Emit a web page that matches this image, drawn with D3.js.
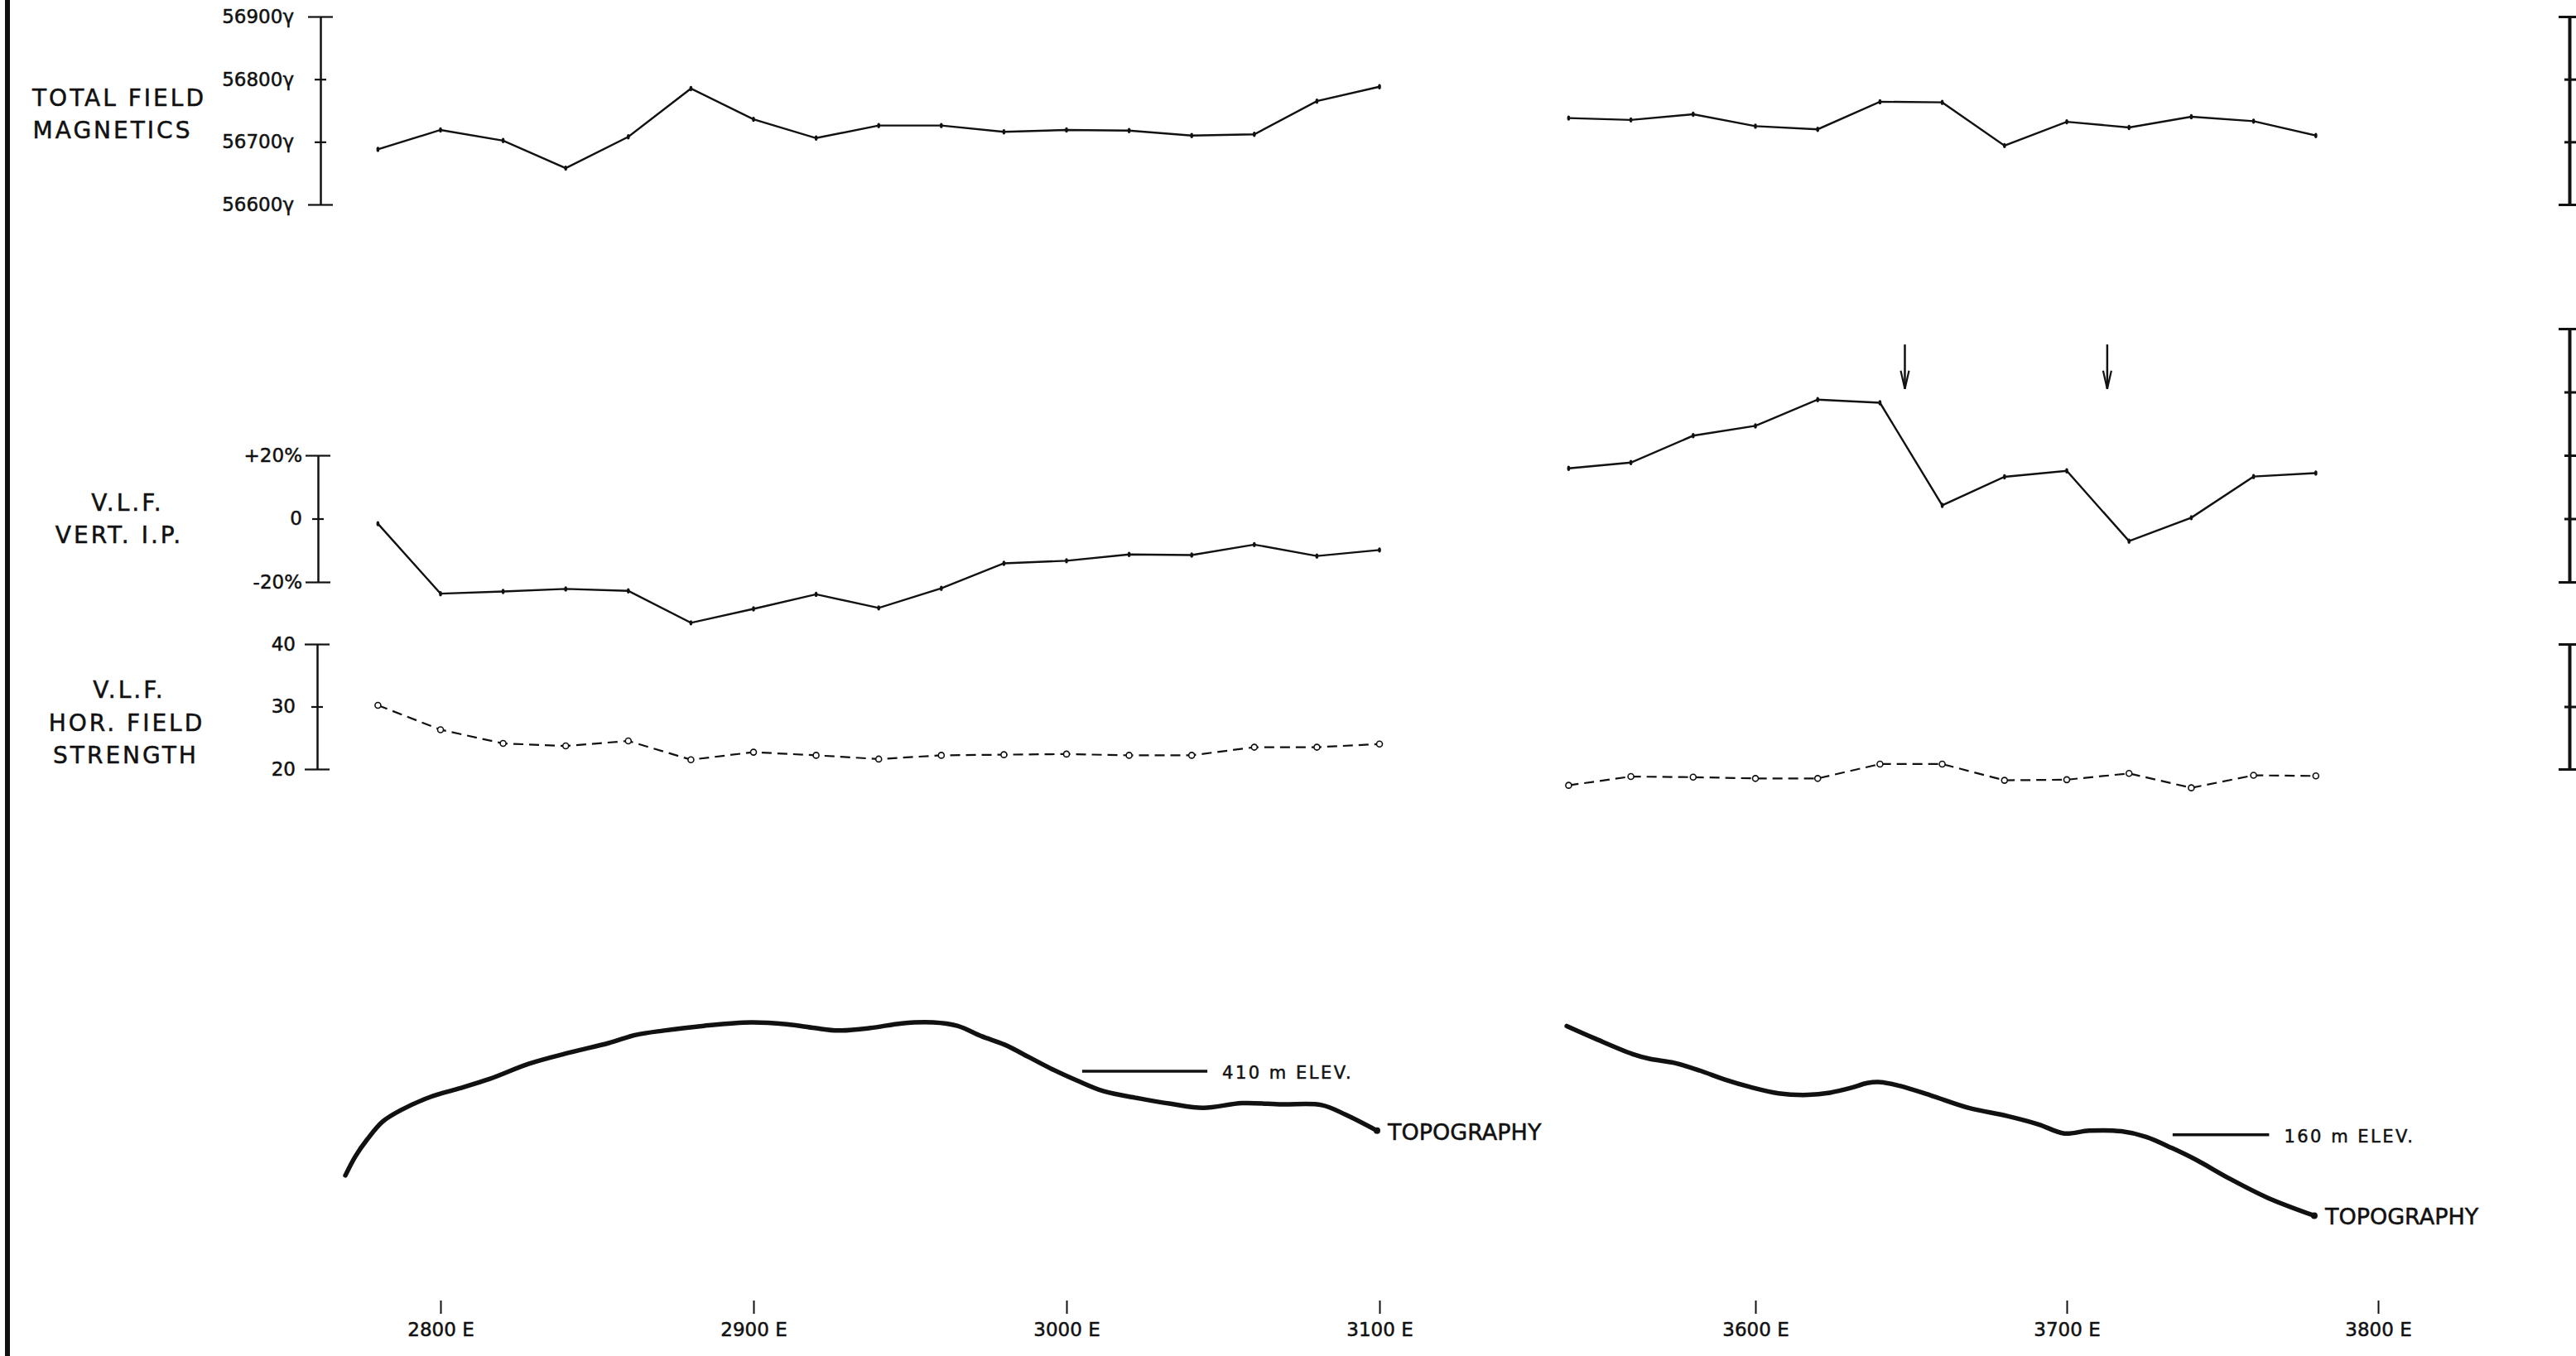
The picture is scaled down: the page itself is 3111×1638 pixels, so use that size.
<!DOCTYPE html>
<html>
<head>
<meta charset="utf-8">
<script src="https://cdn.jsdelivr.net/npm/d3@7"></script>
<style>
body { margin: 0; background: #fff; }
svg { display: block; }
text { font-family: "DejaVu Sans", sans-serif; fill: #111; stroke: #111; stroke-width: 0.5px; }
</style>
</head>
<body>
<svg id="chart" width="3111" height="1638"></svg>
<script>
// stations (m E) on the two parts of the line
var westStations = [2780, 2800, 2820, 2840, 2860, 2880, 2900, 2920, 2940, 2960, 2980, 3000, 3020, 3040, 3060, 3080, 3100];
var eastStations = [3540, 3560, 3580, 3600, 3620, 3640, 3660, 3680, 3700, 3720, 3740, 3760, 3780];

// total field magnetics, gammas
var magWest = [56688, 56719, 56702, 56658, 56708, 56785, 56736, 56706, 56726, 56726, 56716, 56719, 56718, 56710, 56712, 56765, 56788];
var magEast = [56738, 56735, 56744, 56725, 56720, 56764, 56763, 56694, 56732, 56723, 56740, 56733, 56710];

// VLF vertical in-phase, %
var ipWest = [-1.6, -23.7, -23.0, -22.2, -22.8, -32.9, -28.5, -23.9, -28.2, -22.0, -14.1, -13.3, -11.3, -11.5, -8.2, -11.8, -9.9];
var ipEast = [15.9, 17.7, 26.2, 29.3, 37.6, 36.6, 4.2, 13.2, 15.1, -7.1, 0.3, 13.3, 14.4];

// VLF horizontal field strength
var hfsWest = [30.2, 26.3, 24.1, 23.7, 24.5, 21.5, 22.7, 22.2, 21.6, 22.2, 22.3, 22.4, 22.2, 22.2, 23.5, 23.5, 24.0];
var hfsEast = [17.4, 18.8, 18.7, 18.5, 18.5, 20.8, 20.8, 18.2, 18.3, 19.3, 17.0, 19.0, 18.9];

// topography, station (m E) and elevation (m)
var topoWestSt = [2769.6, 2772.8, 2776.5, 2781.5, 2787.8, 2796.8, 2805.6, 2815.6, 2828.3, 2841.0, 2853.7, 2862.4, 2871.4, 2884.1, 2899.2, 2910.6, 2919.6, 2927.0, 2937.3, 2947.4, 2957.4, 2965.1, 2972.8, 2980.2, 2987.8, 2995.5, 3003.2, 3011.9, 3023.3, 3033.3, 3043.7, 3056.1, 3068.8, 3081.5, 3089.2, 3099.2];
var topoWestElev = [376.7, 382.8, 388.1, 393.9, 397.8, 401.8, 404.4, 407.5, 412.4, 415.9, 419.0, 421.6, 423.0, 424.5, 425.6, 425.0, 423.8, 423.0, 423.8, 425.3, 425.6, 424.5, 421.2, 418.5, 414.6, 410.6, 407.1, 403.6, 401.3, 399.6, 398.3, 399.8, 399.4, 399.2, 396.1, 391.0];
var topoEastSt = [3539.4, 3548.7, 3560.6, 3566.0, 3573.9, 3582.2, 3590.2, 3598.4, 3607.4, 3616.8, 3623.9, 3630.9, 3635.9, 3640.2, 3646.3, 3656.4, 3668.6, 3680.9, 3691.0, 3699.2, 3707.2, 3717.6, 3725.5, 3733.8, 3741.8, 3752.1, 3764.4, 3779.5];
var topoEastElev = [194.9, 190.8, 185.9, 184.4, 183.1, 180.6, 177.7, 175.3, 173.3, 172.8, 173.5, 175.1, 176.6, 176.9, 175.7, 172.6, 168.6, 166.0, 163.3, 160.4, 161.3, 161.1, 159.3, 155.7, 151.8, 146.0, 139.8, 134.0];

// elevation reference marks: [elevation, from station, to station]
var elevMarkWest = [410, 3005, 3045];
var elevMarkEast = [160, 3734, 3765];

// anomaly arrows (stations)
var arrowStations = [3648, 3713];

// tick values
var westTicks = [2800, 2900, 3000, 3100];
var eastTicks = [3600, 3700, 3800];
var magTicks = [56600, 56700, 56800, 56900];
var ipTicks = [-20, 0, 20];
var ipTicksEast = [-20, 0, 20, 40, 60];
var hfsTicks = [20, 30, 40];

var svg = d3.select("#chart");

var xW = d3.scaleLinear().domain([2800, 3100]).range([532, 1666]);
var xE = d3.scaleLinear().domain([3600, 3800]).range([2120, 2872]);

var yMag = d3.scaleLinear().domain([56600, 56900]).range([247, 20]);
var yIP = d3.scaleLinear().domain([-20, 20]).range([703, 550]);
var yIPEast = yIP.copy().domain([-20, 60]).range([yIP(-20), yIP(60)]);
var yHFS = d3.scaleLinear().domain([20, 40]).range([929, 778]);
var yTopoW = d3.scaleLinear().domain([410, 460]).range([1294, 1105]);
var yTopoE = d3.scaleLinear().domain([160, 210]).range([1370.7, 1182.7]);

// left border
svg.append("rect").attr("x", 6).attr("y", 0).attr("width", 6).attr("height", 1638).attr("fill", "#111");

// titles
var titles = [
  ["TOTAL FIELD", 144, 128], ["MAGNETICS", 136, 167],
  ["V.L.F.", 154, 617], ["VERT. I.P.", 144, 656],
  ["V.L.F.", 156, 843], ["HOR. FIELD", 153, 883], ["STRENGTH", 152, 922]
];
svg.selectAll(".title").data(titles).enter().append("text")
  .attr("class", "title")
  .attr("x", function(d) { return d[1]; })
  .attr("y", function(d) { return d[2]; })
  .attr("text-anchor", "middle")
  .attr("font-size", 28)
  .attr("letter-spacing", 3)
  .text(function(d) { return d[0]; });

function yAxis(x, scale, ticks, fmt, pad, right) {
  var g = svg.append("g")
    .attr("transform", "translate(" + x + ",0)")
    .call(d3.axisLeft(scale).tickValues(ticks).tickFormat(fmt)
      .tickSizeInner(0).tickSizeOuter(0).tickPadding(pad));
  g.attr("font-size", 23).attr("font-family", "DejaVu Sans, sans-serif");
  g.select(".domain").attr("stroke", "#111").attr("stroke-width", right ? 4 : 2.5);
  var first = ticks[0], last = ticks[ticks.length - 1];
  g.selectAll(".tick line")
    .attr("stroke", "#111")
    .attr("stroke-width", right ? 3 : 2.2)
    .attr("x1", function(d) { return (d == first || d == last) ? (right ? -13 : -15) : (right ? -6 : -7); })
    .attr("x2", function(d) { return right ? 10 : ((d == first || d == last) ? 15 : 7); });
  return g;
}

yAxis(387, yMag, magTicks, function(d) { return d + "\u03b3"; }, 32, false);
yAxis(384, yIP, ipTicks, function(d) { return d > 0 ? "+" + d + "%" : (d < 0 ? "-" + (-d) + "%" : "0"); }, 19, false);
yAxis(383, yHFS, hfsTicks, function(d) { return d; }, 26, false);

yAxis(3103, yMag, magTicks, function() { return ""; }, 0, true);
yAxis(3103, yIPEast, ipTicksEast, function() { return ""; }, 0, true);
yAxis(3103, yHFS, hfsTicks, function() { return ""; }, 0, true);

// bottom axes
function xAxis(scale, ticks) {
  var g = svg.append("g")
    .attr("transform", "translate(0,1571)")
    .call(d3.axisBottom(scale).tickValues(ticks).tickFormat(function(d) { return d + " E"; })
      .tickSizeInner(16).tickSizeOuter(0).tickPadding(11));
  g.attr("font-size", 23).attr("font-family", "DejaVu Sans, sans-serif");
  g.select(".domain").remove();
  g.selectAll(".tick line").attr("stroke", "#111").attr("stroke-width", 2);
}
xAxis(xW, westTicks);
xAxis(xE, eastTicks);

function profile(x, y, stations, values, dashed) {
  var pts = stations.map(function(s, i) { return [x(s), y(values[i])]; });
  svg.append("path")
    .attr("d", d3.line()(pts))
    .attr("fill", "none")
    .attr("stroke", "#111")
    .attr("stroke-width", dashed ? 2.2 : 2.4)
    .attr("stroke-dasharray", dashed ? "12,7" : null);
  var g = svg.append("g");
  if (dashed) {
    g.selectAll("circle").data(pts).enter().append("circle")
      .attr("cx", function(d) { return d[0]; })
      .attr("cy", function(d) { return d[1]; })
      .attr("r", 3.5)
      .attr("fill", "#fff").attr("stroke", "#111").attr("stroke-width", 1.6);
  } else {
    g.selectAll("ellipse").data(pts).enter().append("ellipse")
      .attr("cx", function(d) { return d[0]; })
      .attr("cy", function(d) { return d[1]; })
      .attr("rx", 1.8).attr("ry", 3.2)
      .attr("fill", "#111");
  }
}

profile(xW, yMag, westStations, magWest, false);
profile(xE, yMag, eastStations, magEast, false);
profile(xW, yIP, westStations, ipWest, false);
profile(xE, yIP, eastStations, ipEast, false);
profile(xW, yHFS, westStations, hfsWest, true);
profile(xE, yHFS, eastStations, hfsEast, true);

// arrows over the VLF anomalies
arrowStations.forEach(function(s) {
  var ax = xE(s), top = yIPEast(55), tip = yIPEast(41);
  svg.append("line").attr("x1", ax).attr("x2", ax).attr("y1", top).attr("y2", tip)
    .attr("stroke", "#111").attr("stroke-width", 2.5);
  svg.append("path")
    .attr("d", "M" + (ax - 5) + "," + (tip - 22) + "L" + ax + "," + tip + "L" + (ax + 5) + "," + (tip - 22))
    .attr("fill", "none").attr("stroke", "#111").attr("stroke-width", 2.2);
});

// topography
function topo(x, y, st, elev, mark, label, labelPos) {
  var pts = st.map(function(s, i) { return [x(s), y(elev[i])]; });
  svg.append("path")
    .attr("d", d3.line().curve(d3.curveCatmullRom.alpha(0.5))(pts))
    .attr("fill", "none").attr("stroke", "#111").attr("stroke-width", 5.5)
    .attr("stroke-linecap", "round");
  var end = pts[pts.length - 1];
  svg.append("circle").attr("cx", end[0]).attr("cy", end[1]).attr("r", 4).attr("fill", "#111");
  svg.append("text").attr("x", end[0] + 13).attr("y", end[1] + 11)
    .attr("font-size", 27).text("TOPOGRAPHY");
  svg.append("line")
    .attr("x1", x(mark[1])).attr("x2", x(mark[2]))
    .attr("y1", y(mark[0])).attr("y2", y(mark[0]))
    .attr("stroke", "#111").attr("stroke-width", 3.5);
  svg.append("text").attr("x", x(mark[2]) + labelPos).attr("y", y(mark[0]) + 9)
    .attr("font-size", 21).attr("letter-spacing", 2.5).text(label);
}

topo(xW, yTopoW, topoWestSt, topoWestElev, elevMarkWest, "410 m ELEV.", 18);
topo(xE, yTopoE, topoEastSt, topoEastElev, elevMarkEast, "160 m ELEV.", 18);
</script>
</body>
</html>
